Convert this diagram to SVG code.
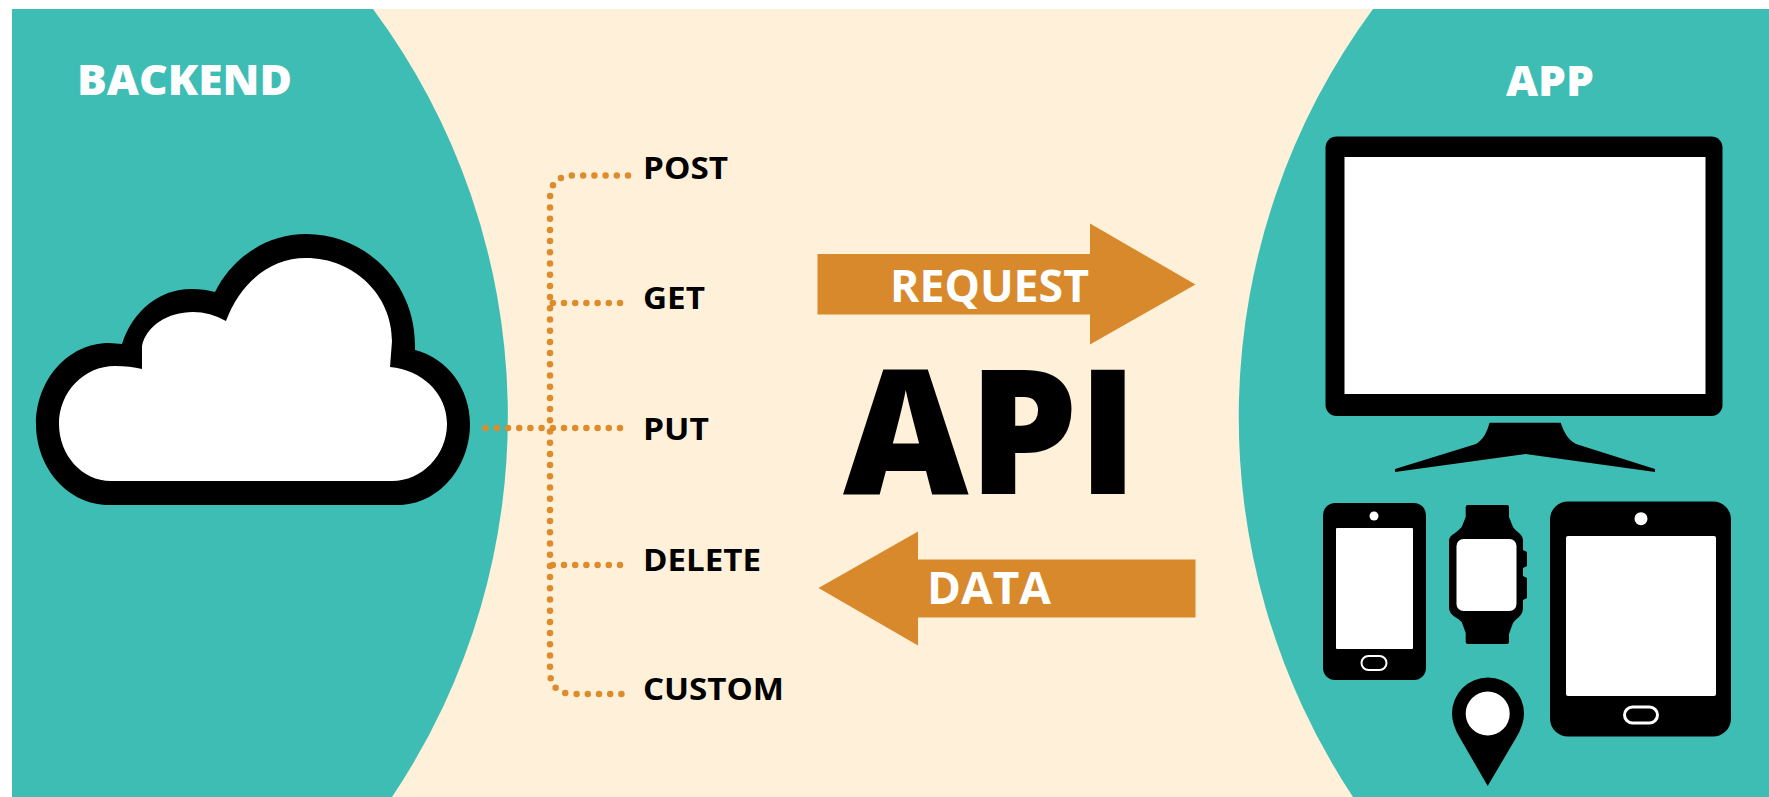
<svg xmlns="http://www.w3.org/2000/svg" width="1769" height="797" viewBox="0 0 1769 797">
<style>
.teal{fill:#3ebdb5}
.k{fill:#000}
.w{fill:#fff}
.or{fill:#d8892b}
text{font-family:"Open Sans","Liberation Sans",sans-serif;font-weight:700}
.h{fill:#fff;font-size:42px;font-weight:800}
.m{fill:#000;font-size:31px}
.a{fill:#fff;font-size:45px}
.dots{fill:none;stroke:#de8c2b;stroke-width:6.5;stroke-linecap:round;stroke-dasharray:0 11.2}
.btn{fill:#000;stroke:#fff}
</style>
<rect width="1769" height="797" fill="#fff"/>
<rect x="12" y="9" width="1757" height="788" fill="#fff0d9"/>
<g id="backend-panel">
<path class="teal" d="M12 9L373 9A683 683 0 0 1 392 797L12 797Z"/>
<text class="h" x="77" y="95" textLength="215" lengthAdjust="spacingAndGlyphs">BACKEND</text>
</g>
<g id="app-panel">
<path class="teal" d="M1373 9L1769 9L1769 797L1353 797A688 688 0 0 1 1373 9Z"/>
<text class="h" x="1506" y="96" textLength="88" lengthAdjust="spacingAndGlyphs">APP</text>
</g>
<g id="connectors">
<path class="dots" d="M628 175.5L574 175.5Q550 175.5 550 199L550 671Q550 694 574 694L628 694"/>
<path class="dots" d="M620 303L550 303"/>
<path class="dots" d="M620 428L482 428"/>
<path class="dots" d="M620 565L550 565"/>
</g>
<g id="cloud">
<path class="k" d="M109 505C68 505 36 468 36 424C36 380 68 343 109 343L122 344C133 310 160 289 191 289C200 289 208 290 215 292C232 258 266 234 306 234C366 234 415 283 415 345L415 350C447 358 470 388 470 424C470 468 438 505 398 505Z"/>
<path class="w" d="M111 481C82 481 59 455 59 424C59 392 84 366 115 366Q130 366 142 369L142 346C146 326 168 312 193 312Q210 312 226 321C240 283 270 258 306 258C354 258 392 295 392 341L390 367C422 370 447 393 447 424C447 455 422 481 392 481Z"/>
</g>
<g id="post"><text class="m" x="643" y="178.5" textLength="85" lengthAdjust="spacingAndGlyphs">POST</text></g>
<g id="get"><text class="m" x="643" y="309" textLength="62" lengthAdjust="spacingAndGlyphs">GET</text></g>
<g id="put"><text class="m" x="643" y="440" textLength="66" lengthAdjust="spacingAndGlyphs">PUT</text></g>
<g id="delete"><text class="m" x="643" y="570.5" textLength="118" lengthAdjust="spacingAndGlyphs">DELETE</text></g>
<g id="custom"><text class="m" x="643" y="700" textLength="141" lengthAdjust="spacingAndGlyphs">CUSTOM</text></g>
<g id="request">
<path class="or" d="M817.5 254L1090 254L1090 223.5L1195.5 284.5L1090 344.5L1090 314.5L817.5 314.5Z"/>
<text class="a" x="890" y="302" textLength="199" lengthAdjust="spacingAndGlyphs">REQUEST</text>
</g>
<g id="data">
<path class="or" d="M818.5 588L918 531.5L918 559.5L1195.5 559.5L1195.5 617.5L918 617.5L918 645.5Z"/>
<text class="a" x="927" y="604" textLength="124" lengthAdjust="spacingAndGlyphs">DATA</text>
</g>
<g id="api"><text x="843" y="494" font-size="174" style="font-weight:800" textLength="295" lengthAdjust="spacingAndGlyphs">API</text></g>
<g id="monitor">
<rect class="k" x="1325.5" y="136.5" width="397" height="279.5" rx="11"/>
<rect class="w" x="1344.5" y="157" width="361" height="237"/>
<path class="k" d="M1489.5 422.7L1560.7 422.7C1564 432 1568 440 1576 444L1655 469L1655 472L1525.6 454L1395 472L1395 469L1476 444C1483 440 1487 432 1489.5 422.7Z"/>
</g>
<g id="phone">
<rect class="k" x="1323" y="503" width="103" height="177" rx="12"/>
<rect class="w" x="1336" y="528" width="77" height="121" rx="1"/>
<circle class="w" cx="1374" cy="516" r="4.5"/>
<rect class="btn" x="1361.5" y="656" width="25" height="14" rx="7" stroke-width="2"/>
</g>
<g id="watch">
<path class="k" d="M1468 505L1507 505Q1509 505 1509 507L1509 517L1513 527Q1515 530 1519 533Q1523 536 1523 541L1523 550L1527 552L1527 566L1523 568L1523 576L1527 578L1527 598L1523 600L1523 608Q1523 613 1519 617Q1515 620 1513 623L1509 634L1509 642Q1509 644 1507 644L1468 644Q1465.7 644 1465.7 642L1465.7 633L1461.7 622Q1459 619 1455 617Q1449 613 1449 608L1449 541Q1449 536 1455 533Q1459 530 1461.7 527L1465.7 517L1465.7 507Q1465.7 505 1468 505Z"/>
<rect class="w" x="1456.5" y="539" width="60" height="72" rx="7"/>
</g>
<g id="pin">
<path class="k" d="M1487.7 786L1460 738Q1452 725 1452 713.5A36 36 0 0 1 1524 713.5Q1524 725 1516 738Z"/>
<circle class="w" cx="1487.7" cy="713.5" r="22"/>
</g>
<g id="tablet">
<rect class="k" x="1550" y="501.5" width="181" height="235" rx="18"/>
<rect class="w" x="1566" y="536" width="150" height="160" rx="2"/>
<circle class="w" cx="1641" cy="518.7" r="6.5"/>
<rect class="btn" x="1624.5" y="707" width="33" height="16" rx="8" stroke-width="3"/>
</g>
</svg>
